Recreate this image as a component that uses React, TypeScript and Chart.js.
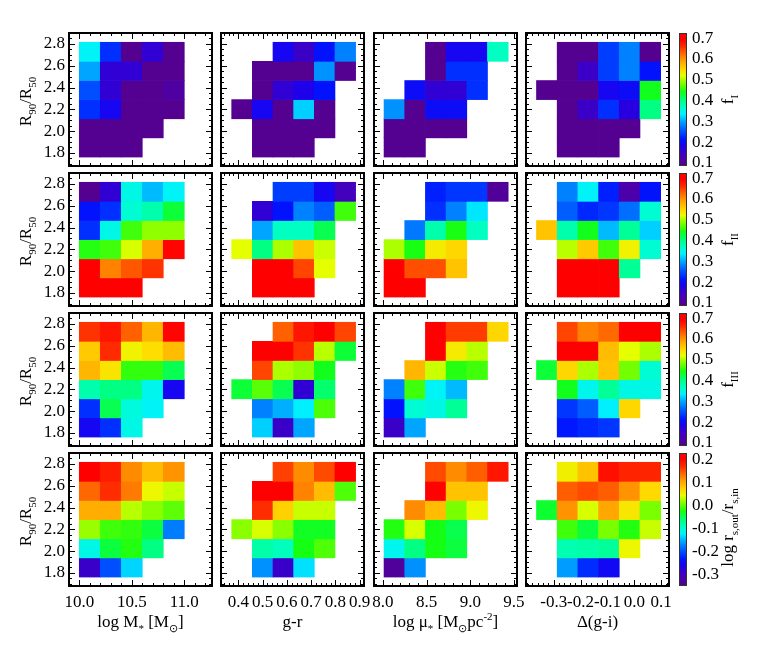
import React, { useEffect, useRef } from "react";
import { Chart, registerables } from "chart.js";
Chart.register(...registerables);

const PAGE_W = 763;
const PAGE_H = 661;
const SERIF = "'Liberation Serif', 'Times New Roman', Times, serif";

// ---------------- data ----------------
// R90/R50 bin edges (bottom -> top)
const rEdges = [1.762, 1.938, 2.113, 2.289, 2.464, 2.64, 2.815];
const rTicks = [1.8, 2.0, 2.2, 2.4, 2.6, 2.8];

// x-bin edges of each property
const massEdges = [10.0, 10.2, 10.4, 10.6, 10.8, 11.0];
const colorEdges = [0.373, 0.458, 0.543, 0.628, 0.713, 0.798, 0.883];
const densityEdges = [8.012, 8.249, 8.486, 8.723, 8.96, 9.197, 9.434];
const deltaEdges = [-0.364, -0.287, -0.21, -0.133, -0.056, 0.021, 0.098];

const massTicks = [10.0, 10.5, 11.0];
const colorTicks = [0.4, 0.5, 0.6, 0.7, 0.8, 0.9];
const densityTicks = [8.0, 8.5, 9.0, 9.5];
const deltaTicks = [-0.3, -0.2, -0.1, 0.0, 0.1];

const fTicks = [0.1, 0.2, 0.3, 0.4, 0.5, 0.6, 0.7];
const logrTicks = [-0.3, -0.2, -0.1, 0.0, 0.1, 0.2];

// cell values: rows from top (R90/R50 ~2.7) to bottom (~1.85)
const fI_mass = [
  [0.34, 0.23, 0.09, 0.16, 0.09],
  [0.30, 0.16, 0.16, 0.09, 0.09],
  [0.25, 0.16, 0.09, 0.09, 0.11],
  [0.23, 0.19, 0.09, 0.09, 0.09],
  [0.09, 0.09, 0.09, 0.09, null],
  [0.09, 0.09, 0.09, null, null],
];
const fI_color = [
  [null, null, 0.19, 0.15, 0.21, 0.28],
  [null, 0.09, 0.09, 0.09, 0.29, 0.09],
  [null, 0.09, 0.16, 0.18, 0.21, null],
  [0.09, 0.19, 0.09, 0.32, 0.09, null],
  [null, 0.09, 0.09, 0.09, 0.09, null],
  [null, 0.09, 0.09, 0.09, null, null],
];
const fI_density = [
  [null, null, 0.09, 0.19, 0.19, 0.37],
  [null, null, 0.09, 0.23, 0.23, null],
  [null, 0.2, 0.16, 0.16, 0.23, null],
  [0.29, 0.09, 0.2, 0.2, null, null],
  [0.09, 0.09, 0.09, 0.09, null, null],
  [0.09, 0.09, null, null, null, null],
];
const fI_delta = [
  [null, 0.09, 0.09, 0.24, 0.28, 0.09],
  [null, 0.09, 0.15, 0.24, 0.28, 0.21],
  [0.09, 0.09, 0.09, 0.19, 0.2, 0.44],
  [null, 0.09, 0.15, 0.23, 0.17, 0.4],
  [null, 0.09, 0.09, 0.09, 0.09, null],
  [null, 0.09, 0.09, 0.09, null, null],
];

const fII_mass = [
  [0.09, 0.16, 0.35, 0.31, 0.34],
  [0.21, 0.23, 0.36, 0.38, 0.43],
  [0.23, 0.35, 0.46, 0.49, 0.49],
  [0.45, 0.46, 0.515, 0.58, 0.69],
  [0.7, 0.61, 0.635, 0.655, null],
  [0.7, 0.7, 0.7, null, null],
];
const fII_color = [
  [null, null, 0.24, 0.24, 0.19, 0.14],
  [null, 0.16, 0.21, 0.28, 0.26, 0.46],
  [null, 0.3, 0.37, 0.37, 0.42, null],
  [0.52, 0.4, 0.5, 0.565, 0.51, null],
  [null, 0.7, 0.7, 0.645, 0.52, null],
  [null, 0.7, 0.7, 0.7, null, null],
];
const fII_density = [
  [null, null, 0.22, 0.235, 0.235, 0.1],
  [null, null, 0.23, 0.28, 0.33, null],
  [null, 0.275, 0.38, 0.445, 0.37, null],
  [0.5, 0.445, 0.535, 0.55, null, null],
  [0.7, 0.64, 0.64, 0.565, null, null],
  [0.7, 0.7, null, null, null, null],
];
const fII_delta = [
  [null, 0.28, 0.34, 0.22, 0.12, 0.21],
  [null, 0.26, 0.225, 0.235, 0.27, 0.36],
  [0.565, 0.38, 0.44, 0.31, 0.39, 0.32],
  [null, 0.505, 0.56, 0.46, 0.53, 0.36],
  [null, 0.7, 0.7, 0.7, 0.39, null],
  [null, 0.7, 0.7, 0.7, null, null],
];

const fIII_mass = [
  [0.655, 0.675, 0.63, 0.575, 0.69],
  [0.56, 0.66, 0.53, 0.545, 0.57],
  [0.575, 0.54, 0.455, 0.455, 0.42],
  [0.38, 0.4, 0.4, 0.345, 0.19],
  [0.23, 0.42, 0.355, 0.34, null],
  [0.19, 0.23, 0.35, null, null],
];
const fIII_color = [
  [null, null, 0.63, 0.675, 0.7, 0.645],
  [null, 0.7, 0.7, 0.655, 0.505, 0.43],
  [null, 0.645, 0.5, 0.49, 0.44, null],
  [0.43, 0.47, 0.42, 0.16, 0.41, null],
  [null, 0.28, 0.305, 0.335, 0.465, null],
  [null, 0.32, 0.15, 0.3, null, null],
];
const fIII_density = [
  [null, null, 0.7, 0.65, 0.65, 0.55],
  [null, null, 0.7, 0.535, 0.505, null],
  [null, 0.575, 0.51, 0.45, 0.46, null],
  [0.28, 0.46, 0.34, 0.31, null, null],
  [0.21, 0.36, 0.35, 0.39, null, null],
  [0.15, 0.3, null, null, null, null],
];
const fIII_delta = [
  [null, 0.645, 0.61, 0.625, 0.7, 0.7],
  [null, 0.7, 0.7, 0.57, 0.52, 0.5],
  [0.43, 0.55, 0.5, 0.565, 0.48, 0.36],
  [null, 0.44, 0.345, 0.39, 0.35, 0.35],
  [null, 0.235, 0.26, 0.335, 0.55, null],
  [null, 0.215, 0.225, 0.235, null, null],
];

const logr_mass = [
  [0.21, 0.18, 0.12, 0.09, 0.115],
  [0.14, 0.17, 0.13, 0.05, 0.035],
  [0.1, 0.1, 0.03, 0.015, 0.0],
  [0.02, -0.01, -0.015, -0.04, -0.175],
  [-0.11, -0.04, -0.02, -0.065, null],
  [-0.29, -0.2, -0.135, null, null],
];
const logr_color = [
  [null, null, 0.16, 0.12, 0.155, 0.21],
  [null, 0.21, 0.21, 0.125, 0.09, -0.005],
  [null, 0.17, 0.075, 0.035, 0.035, null],
  [0.015, 0.04, 0.015, -0.03, -0.03, null],
  [null, -0.08, -0.09, -0.025, -0.005, null],
  [null, -0.165, -0.29, -0.13, null, null],
];
const logr_density = [
  [null, null, 0.155, 0.12, 0.145, 0.185],
  [null, null, 0.2, 0.085, 0.085, null],
  [null, 0.12, 0.09, 0.01, 0.05, null],
  [-0.02, 0.04, -0.025, -0.045, null, null],
  [-0.115, -0.065, -0.025, -0.04, null, null],
  [-0.335, -0.165, null, null, null, null],
];
const logr_delta = [
  [null, 0.055, 0.085, 0.19, 0.175, 0.175],
  [null, 0.145, 0.155, 0.145, 0.115, 0.07],
  [-0.035, 0.115, 0.04, 0.105, 0.06, 0.01],
  [null, -0.01, -0.04, 0.01, -0.02, 0.035],
  [null, -0.085, -0.08, -0.075, 0.05, null],
  [null, -0.16, -0.22, -0.25, null, null],
];

// ---------------- layout / style ----------------
const PANEL_LEFT = [69, 221, 374, 526];
const PANEL_TOP = [33, 173, 313, 453];
const PANEL_W = 143;
const PANEL_H = 133;
const CBAR_LEFT = 679;
const CBAR_W = 8;
const Y_MIN = 1.68;
const Y_MAX = 2.9;

type Seg = { t: string; k?: "sub" | "sup" };

const COLS = [
  { min: 9.902, max: 11.264, edges: massEdges, ticks: massTicks, minor: 0.1,
    title: [{ t: "log M" }, { t: "*", k: "sub" }, { t: " [M" }, { t: "\u2299", k: "sub" }, { t: "]" }] as Seg[] },
  { min: 0.329, max: 0.9175, edges: colorEdges, ticks: colorTicks, minor: 0.02,
    title: [{ t: "g-r" }] as Seg[] },
  { min: 7.897, max: 9.535, edges: densityEdges, ticks: densityTicks, minor: 0.1,
    title: [{ t: "log \u03bc" }, { t: "*", k: "sub" }, { t: " [M" }, { t: "\u2299", k: "sub" }, { t: "pc" }, { t: "-2", k: "sup" }, { t: "]" }] as Seg[] },
  { min: -0.403, max: 0.129, edges: deltaEdges, ticks: deltaTicks, minor: 0.02,
    title: [{ t: "\u0394(g-i)" }] as Seg[] },
];

const ROWS = [
  { data: [fI_mass, fI_color, fI_density, fI_delta], cmin: 0.085, cmax: 0.725, ticks: fTicks, titleShift: 0,
    title: [{ t: "f" }, { t: "I", k: "sub" }] as Seg[] },
  { data: [fII_mass, fII_color, fII_density, fII_delta], cmin: 0.085, cmax: 0.725, ticks: fTicks, titleShift: 0,
    title: [{ t: "f" }, { t: "II", k: "sub" }] as Seg[] },
  { data: [fIII_mass, fIII_color, fIII_density, fIII_delta], cmin: 0.085, cmax: 0.725, ticks: fTicks, titleShift: 0,
    title: [{ t: "f" }, { t: "III", k: "sub" }] as Seg[] },
  { data: [logr_mass, logr_color, logr_density, logr_delta], cmin: -0.35, cmax: 0.23, ticks: logrTicks, titleShift: 8,
    title: [{ t: "log r" }, { t: "s,out", k: "sub" }, { t: "/r" }, { t: "s,in", k: "sub" }] as Seg[] },
];

const CMAP: [number, number, number, number][] = [
  [0.0, 85, 0, 140],
  [0.08, 70, 0, 185],
  [0.15, 30, 0, 235],
  [0.2, 0, 20, 255],
  [0.28, 0, 100, 255],
  [0.34, 0, 170, 255],
  [0.39, 0, 240, 255],
  [0.44, 0, 255, 200],
  [0.5, 0, 255, 120],
  [0.56, 20, 255, 20],
  [0.62, 120, 255, 0],
  [0.68, 230, 255, 0],
  [0.72, 255, 220, 0],
  [0.78, 255, 170, 0],
  [0.84, 255, 110, 0],
  [0.9, 255, 40, 0],
  [0.95, 255, 0, 0],
  [1.0, 255, 0, 0],
];

function cmap(t: number): string {
  const tt = Math.max(0, Math.min(1, t));
  for (let i = 1; i < CMAP.length; i++) {
    const a = CMAP[i - 1], b = CMAP[i];
    if (tt <= b[0]) {
      const f = (tt - a[0]) / (b[0] - a[0] || 1);
      const r = Math.round(a[1] + (b[1] - a[1]) * f);
      const g = Math.round(a[2] + (b[2] - a[2]) * f);
      const bl = Math.round(a[3] + (b[3] - a[3]) * f);
      return `rgb(${r},${g},${bl})`;
    }
  }
  return "rgb(255,0,0)";
}

function fmt1(v: number): string {
  const x = Math.abs(v) < 1e-9 ? 0 : v;
  return x.toFixed(1);
}

function drawRich(ctx: CanvasRenderingContext2D, segs: Seg[], x: number, y: number, size: number, rotate: boolean) {
  ctx.save();
  ctx.translate(x, y);
  if (rotate) ctx.rotate(-Math.PI / 2);
  const small = Math.round(size * 0.64);
  const widths = segs.map((s) => {
    ctx.font = `${s.k ? small : size}px ${SERIF}`;
    return ctx.measureText(s.t).width;
  });
  const total = widths.reduce((a, b) => a + b, 0);
  let cx = -total / 2;
  ctx.fillStyle = "#000";
  ctx.textAlign = "left";
  ctx.textBaseline = "alphabetic";
  segs.forEach((s, i) => {
    ctx.font = `${s.k ? small : size}px ${SERIF}`;
    const dy = s.k === "sub" ? size * 0.3 : s.k === "sup" ? -size * 0.42 : 0;
    ctx.fillText(s.t, cx, dy);
    cx += widths[i];
  });
  ctx.restore();
}

function makeFrame(xTicks: number[], xMinorStep: number) {
  return {
    id: "frame",
    afterDatasetsDraw(chart: any) {
      const { ctx, chartArea: a } = chart;
      const xs = chart.scales.x, ys = chart.scales.y;
      ctx.save();
      ctx.strokeStyle = "#000";
      ctx.lineWidth = 1;
      ctx.beginPath();
      const xTick = (v: number, len: number) => {
        const px = Math.round(xs.getPixelForValue(v)) + 0.5;
        if (px < a.left + 1 || px > a.right - 1) return;
        ctx.moveTo(px, a.bottom); ctx.lineTo(px, a.bottom - len);
        ctx.moveTo(px, a.top); ctx.lineTo(px, a.top + len);
      };
      const yTick = (v: number, len: number) => {
        const py = Math.round(ys.getPixelForValue(v)) + 0.5;
        if (py < a.top + 1 || py > a.bottom - 1) return;
        ctx.moveTo(a.left, py); ctx.lineTo(a.left + len, py);
        ctx.moveTo(a.right, py); ctx.lineTo(a.right - len, py);
      };
      const x0 = Math.ceil(xs.min / xMinorStep - 1e-6);
      const x1 = Math.floor(xs.max / xMinorStep + 1e-6);
      for (let k = x0; k <= x1; k++) xTick(k * xMinorStep, 3);
      xTicks.forEach((v) => xTick(v, 6));
      const y0 = Math.ceil(ys.min / 0.05 - 1e-6);
      const y1 = Math.floor(ys.max / 0.05 + 1e-6);
      for (let k = y0; k <= y1; k++) yTick(k * 0.05, 3);
      rTicks.forEach((v) => yTick(v, 6));
      ctx.stroke();
      ctx.lineWidth = 2;
      ctx.strokeRect(a.left, a.top, a.width, a.height);
      ctx.restore();
    },
  };
}

function makeTitles(items: { segs: Seg[]; x: number; y: number; rotate: boolean }[]) {
  return {
    id: "richTitles",
    afterDraw(chart: any) {
      items.forEach((it) => drawRich(chart.ctx, it.segs, it.x, it.y, 17, it.rotate));
    },
  };
}

const gradientPlugin = {
  id: "cbarGradient",
  beforeDatasetsDraw(chart: any) {
    const { ctx, chartArea: a } = chart;
    const g = ctx.createLinearGradient(0, a.bottom, 0, a.top);
    CMAP.forEach((s) => g.addColorStop(s[0], `rgb(${s[1]},${s[2]},${s[3]})`));
    ctx.save();
    ctx.fillStyle = g;
    ctx.fillRect(a.left, a.top, a.width, a.height);
    ctx.strokeStyle = "#333";
    ctx.lineWidth = 1;
    ctx.strokeRect(a.left + 0.5, a.top + 0.5, a.width - 1, a.height - 1);
    ctx.restore();
  },
};

function cellDatasets(values: (number | null)[][], xEdges: number[], cmin: number, cmax: number) {
  const n = rEdges.length;
  return values.map((rowVals, i) => {
    const lo = rEdges[n - 2 - i];
    const hi = rEdges[n - 1 - i];
    const pts: any[] = [];
    rowVals.forEach((v, j) => {
      if (v === null || v === undefined) return;
      pts.push({ x: (xEdges[j] + xEdges[j + 1]) / 2, y: [lo, hi], v });
    });
    return {
      type: "bar",
      data: pts,
      grouped: false,
      barPercentage: 1,
      categoryPercentage: 1,
      borderWidth: 0,
      borderSkipped: false,
      backgroundColor: (c: any) => (c.raw ? cmap((c.raw.v - cmin) / (cmax - cmin)) : "rgba(0,0,0,0)"),
    };
  });
}

const tickFont = { family: SERIF, size: 17 };

function panelConfig(r: number, c: number): any {
  const col = COLS[c];
  const row = ROWS[r];
  const left = PANEL_LEFT[c];
  const top = PANEL_TOP[r];
  const showX = r === ROWS.length - 1;
  const showY = c === 0;
  const yAxisW = 45;
  const xAxisH = 30;
  const titles: { segs: Seg[]; x: number; y: number; rotate: boolean }[] = [];
  if (showY) titles.push({ segs: [{ t: "R" }, { t: "90", k: "sub" }, { t: "/R" }, { t: "50", k: "sub" }], x: 31, y: top + PANEL_H / 2 + 2, rotate: true });
  if (showX) titles.push({ segs: col.title, x: left + PANEL_W / 2, y: 627, rotate: false });
  return {
    type: "bar",
    data: { datasets: cellDatasets(row.data[c], col.edges, row.cmin, row.cmax) },
    options: {
      animation: false,
      responsive: false,
      maintainAspectRatio: false,
      events: [],
      layout: {
        padding: {
          left: left - (showY ? yAxisW : 0),
          top: top,
          right: PAGE_W - left - PANEL_W,
          bottom: PAGE_H - top - PANEL_H - (showX ? xAxisH : 0),
        },
      },
      plugins: { legend: { display: false }, tooltip: { enabled: false }, title: { display: false } },
      scales: {
        x: {
          type: "linear",
          display: showX,
          min: col.min,
          max: col.max,
          bounds: "data",
          offset: false,
          afterBuildTicks: (s: any) => { s.ticks = col.ticks.map((v) => ({ value: v })); },
          afterFit: (s: any) => { s.height = showX ? xAxisH : 0; },
          ticks: { font: tickFont, color: "#000", padding: 6, maxRotation: 0, autoSkip: false, callback: (v: any) => fmt1(Number(v)) },
          grid: { display: false, drawTicks: false, offset: false },
          border: { display: false },
        },
        y: {
          type: "linear",
          display: showY,
          min: Y_MIN,
          max: Y_MAX,
          bounds: "data",
          beginAtZero: false,
          afterBuildTicks: (s: any) => { s.ticks = rTicks.map((v) => ({ value: v })); },
          afterFit: (s: any) => { s.width = showY ? yAxisW : 0; },
          ticks: { font: tickFont, color: "#000", padding: 4, autoSkip: false, callback: (v: any) => fmt1(Number(v)) },
          grid: { display: false, drawTicks: false },
          border: { display: false },
        },
      },
    },
    plugins: [makeFrame(col.ticks, col.minor), makeTitles(titles)],
  };
}

function colorbarConfig(r: number): any {
  const row = ROWS[r];
  const top = PANEL_TOP[r];
  const axisW = 40;
  return {
    type: "scatter",
    data: { datasets: [] },
    options: {
      animation: false,
      responsive: false,
      maintainAspectRatio: false,
      events: [],
      layout: {
        padding: {
          left: CBAR_LEFT,
          top: top,
          right: PAGE_W - CBAR_LEFT - CBAR_W - axisW,
          bottom: PAGE_H - top - PANEL_H,
        },
      },
      plugins: { legend: { display: false }, tooltip: { enabled: false } },
      scales: {
        x: { type: "linear", display: false, min: 0, max: 1, afterFit: (s: any) => { s.height = 0; } },
        y: {
          type: "linear",
          position: "right",
          min: row.cmin,
          max: row.cmax,
          bounds: "data",
          afterBuildTicks: (s: any) => { s.ticks = row.ticks.map((v) => ({ value: v })); },
          afterFit: (s: any) => { s.width = axisW; },
          ticks: { font: tickFont, color: "#000", padding: 5, autoSkip: false, callback: (v: any) => fmt1(Number(v)) },
          grid: { display: false, drawTicks: false },
          border: { display: false },
        },
      },
    },
    plugins: [gradientPlugin, makeTitles([{ segs: row.title, x: 733, y: top + PANEL_H / 2 + row.titleShift, rotate: true }])],
  };
}

export default function App() {
  const refs = useRef<(HTMLCanvasElement | null)[]>([]);
  const N = ROWS.length * COLS.length + ROWS.length;

  useEffect(() => {
    const charts: Chart[] = [];
    let idx = 0;
    for (let r = 0; r < ROWS.length; r++) {
      for (let c = 0; c < COLS.length; c++) {
        const cv = refs.current[idx++];
        if (cv) charts.push(new Chart(cv, panelConfig(r, c)));
      }
    }
    for (let r = 0; r < ROWS.length; r++) {
      const cv = refs.current[idx++];
      if (cv) charts.push(new Chart(cv, colorbarConfig(r)));
    }
    return () => charts.forEach((ch) => ch.destroy());
  }, []);

  return (
    <div style={{ position: "absolute", left: 0, top: 0, width: PAGE_W, height: PAGE_H, background: "#fff" }}>
      {Array.from({ length: N }).map((_, i) => (
        <canvas
          key={i}
          ref={(el) => { refs.current[i] = el; }}
          width={PAGE_W}
          height={PAGE_H}
          style={{ position: "absolute", left: 0, top: 0 }}
        />
      ))}
    </div>
  );
}
